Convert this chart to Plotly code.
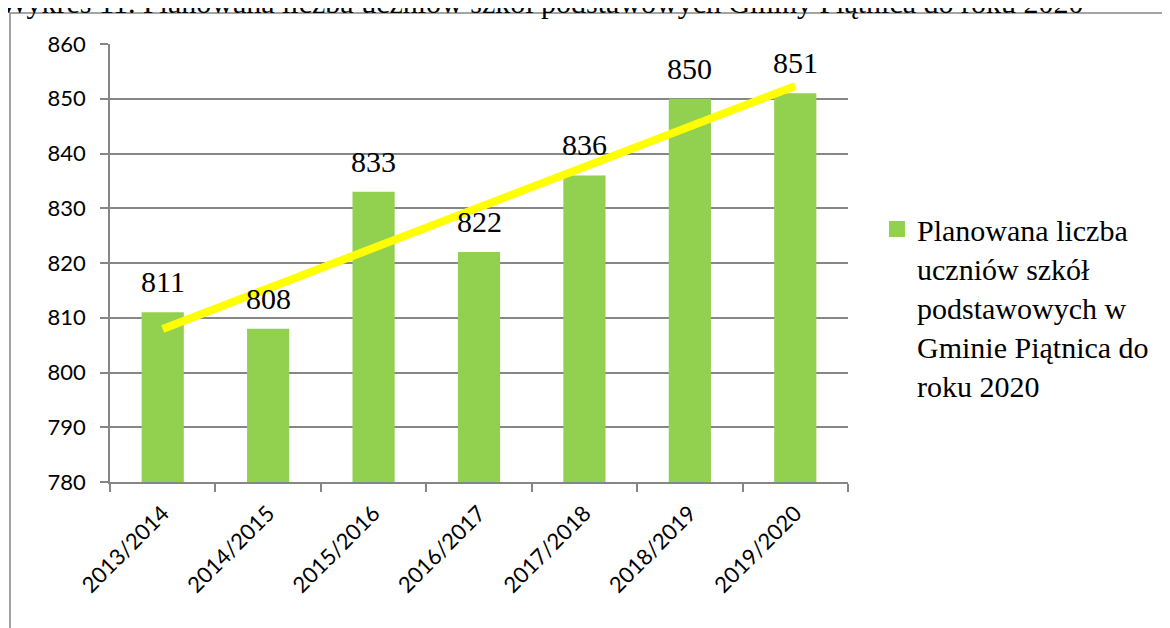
import numpy as np
import plotly.graph_objects as go

# ---- data ----
years = ["2013/2014", "2014/2015", "2015/2016", "2016/2017", "2017/2018", "2018/2019", "2019/2020"]
students = [811, 808, 833, 822, 836, 850, 851]
y_ticks = [780, 790, 800, 810, 820, 830, 840, 850, 860]
series_name = "Planowana liczba<br>uczniów szkół<br>podstawowych w<br>Gminie Piątnica do<br>roku 2020"
title_text = "Wykres 11. Planowana liczba uczniów szkół podstawowych Gminy Piątnica do roku 2020"

# linear trendline (least squares over the data, as in the original spreadsheet)
idx = np.arange(1, len(students) + 1)
slope, intercept = np.polyfit(idx, students, 1)
trend = [slope * i + intercept for i in idx]

GREEN = "#92D050"
GRAY = "#868686"
SERIF = "Liberation Serif, Times New Roman, serif"
SANS = "Lato, Carlito, Calibri, sans-serif"

OFF = 8  # page body margin offset
PL, PR, PT, PB = 110, 848, 44, 482  # plot area in page pixels
PW, PH = PR - PL, PB - PT
L = PL - OFF
T = PT - OFF
R = 1170 - L - PW
B = 628 - T - PH

def px_x(p):
    return (p - PL) / PW

def px_y(p):
    return (PB - p) / PH

fig = go.Figure()
fig.add_trace(go.Bar(x=years, y=students, marker=dict(color=GREEN, line=dict(width=0)),
                     width=0.4, showlegend=False, hoverinfo="x+y"))
fig.add_trace(go.Scatter(x=years, y=trend, mode="lines",
                         line=dict(color="#FFFF00", width=8), showlegend=False, hoverinfo="skip"))
# legend entry
fig.add_trace(go.Scatter(x=[None], y=[None], mode="markers", name=series_name,
                         marker=dict(symbol="square", size=16, color=GREEN)))

for c, v in zip(years, students):
    fig.add_annotation(x=c, y=v, text=str(v), showarrow=False, yanchor="bottom", yshift=12,
                       font=dict(family=SERIF, size=30, color="#000000"))

fig.add_annotation(xref="paper", yref="paper", x=px_x(-2), y=px_y(3), xanchor="left", yanchor="middle",
                   text=title_text, showarrow=False,
                   font=dict(family=SERIF, size=30, color="#000000"))

fig.add_shape(type="rect", xref="paper", yref="paper",
              x0=px_x(10), x1=px_x(1190), y0=px_y(650), y1=px_y(13),
              line=dict(color=GRAY, width=1.5), layer="below")

fig.update_layout(
    width=1170, height=628,
    margin=dict(l=L, r=R, t=T, b=B),
    paper_bgcolor="white", plot_bgcolor="white",
    bargap=0.6,
    legend=dict(x=px_x(877), y=px_y(203), xanchor="left", yanchor="top", valign="top",
                font=dict(family=SERIF, size=30, color="#000000"),
                bgcolor="rgba(0,0,0,0)", tracegroupgap=0),
    xaxis=dict(type="category", showline=True, linecolor=GRAY, linewidth=1.5,
               ticks="outside", tickson="boundaries", ticklen=8, tickcolor=GRAY, tickwidth=1.5,
               tickangle=-45, tickfont=dict(family=SANS, size=22, color="#000000"),
               ticklabelstandoff=8,
               showgrid=False, range=[-0.5, 6.5]),
    yaxis=dict(range=[780, 860], tickvals=y_ticks, showline=True, linecolor=GRAY, linewidth=1.5,
               ticks="outside", ticklen=8, tickcolor=GRAY, tickwidth=1.5,
               showgrid=True, gridcolor=GRAY, gridwidth=1.5, zeroline=False,
               ticklabelstandoff=10,
               tickfont=dict(family=SANS, size=22, color="#000000")),
)

fig.write_html("out.html")
